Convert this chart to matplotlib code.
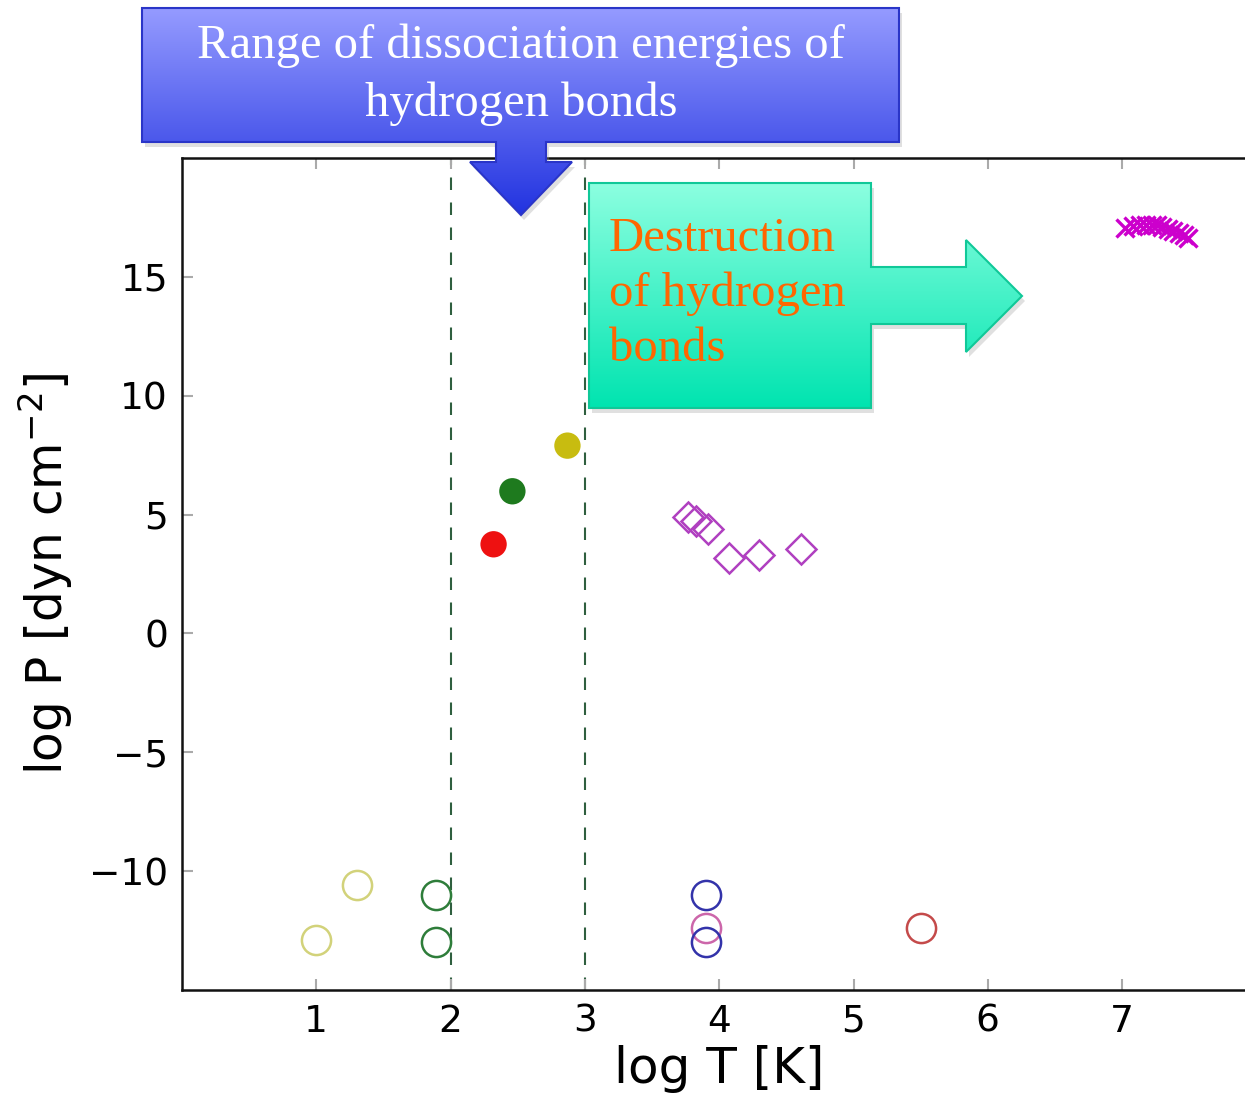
import numpy as np
import matplotlib.pyplot as plt
from matplotlib.patches import Polygon

# data
open_olive_x = [1.0, 1.30]
open_olive_y = [-12.9, -10.6]
open_green_x = [1.89, 1.89]
open_green_y = [-11.0, -13.0]
open_pink_x = [3.90]
open_pink_y = [-12.4]
open_blue_x = [3.90, 3.90]
open_blue_y = [-11.0, -13.0]
open_red_x = [5.50]
open_red_y = [-12.4]

filled_x = [2.32, 2.46, 2.87]
filled_y = [3.75, 5.98, 7.9]
filled_colors = ['#ee1111', '#1e7a1e', '#c8bc10']

diamond_x = [3.77, 3.83, 3.92, 4.07, 4.30, 4.61]
diamond_y = [4.9, 4.75, 4.4, 3.16, 3.3, 3.54]

cross_x = [7.02, 7.08, 7.13, 7.18, 7.22, 7.26, 7.30, 7.34, 7.38, 7.42, 7.46, 7.49]
cross_y = [17.05, 17.12, 17.18, 17.2, 17.2, 17.17, 17.1, 17.02, 16.95, 16.85, 16.75, 16.62]

dissoc_lines = [2, 3]
xticks = [1, 2, 3, 4, 5, 6, 7]
yticks = [-10, -5, 0, 5, 10, 15]

W, H = 1245, 1097
fig = plt.figure(figsize=(W / 100, H / 100), dpi=100)
ax = fig.add_axes([182 / W, 1 - 990 / H, 8 * 134.3 / W, (990 - 158) / H])

ax.set_xlim(0, 8)
ax.set_ylim(-15, 20)

for xv in dissoc_lines:
    ax.axvline(xv, color='#2f5f3f', linestyle=(0, (6, 6)), linewidth=1.5, zorder=1)

ax.plot(open_olive_x, open_olive_y, 'o', mfc='none', mec='#d2d27a', ms=21, mew=1.8, ls='none')
ax.plot(open_green_x, open_green_y, 'o', mfc='none', mec='#2e7d3a', ms=21, mew=1.8, ls='none')
ax.plot(open_pink_x, open_pink_y, 'o', mfc='none', mec='#cc66aa', ms=21, mew=1.8, ls='none')
ax.plot(open_blue_x, open_blue_y, 'o', mfc='none', mec='#3333aa', ms=21, mew=1.8, ls='none')
ax.plot(open_red_x, open_red_y, 'o', mfc='none', mec='#c44a4a', ms=21, mew=1.8, ls='none')

ax.scatter(filled_x, filled_y, s=360, c=filled_colors, edgecolors='none', zorder=3)

ax.plot(diamond_x, diamond_y, 'D', mfc='none', mec='#b040c0', ms=15, mew=1.8, ls='none')
ax.plot(cross_x, cross_y, 'x', color='#cc00cc', ms=13, mew=2.4, ls='none')

ax.set_xticks(xticks)
ax.set_yticks(yticks)
ax.set_yticklabels(['\u221210', '\u22125', '0', '5', '10', '15'])
ax.tick_params(direction='in', length=8, width=1.5, color='#aaaaaa', labelsize=27,
               top=True, right=True, pad=10)
for sp in ax.spines.values():
    sp.set_linewidth(1.8)
    sp.set_color('#111111')

ax.set_xlabel('log T [K]', fontsize=36, labelpad=4)
ax.set_ylabel('log P [dyn cm$^{-2}$]', fontsize=35, labelpad=10)

# overlay in pixel coordinates for the callout shapes
ov = fig.add_axes([0, 0, 1, 1], zorder=5)
ov.set_xlim(0, W)
ov.set_ylim(H, 0)
ov.axis('off')


def callout(points, top_color, bottom_color, edge):
    pts = np.array(points, dtype=float)
    shadow = Polygon(pts + [3, 5], closed=True, facecolor='#999999', alpha=0.3,
                     edgecolor='none')
    ov.add_patch(shadow)
    poly = Polygon(pts, closed=True, facecolor='none', edgecolor=edge, linewidth=1.5, zorder=3)
    ov.add_patch(poly)
    x0, x1 = pts[:, 0].min(), pts[:, 0].max()
    y0, y1 = pts[:, 1].min(), pts[:, 1].max()
    t = np.linspace(0, 1, 256)[:, None]
    c0 = np.array(plt.matplotlib.colors.to_rgb(top_color))
    c1 = np.array(plt.matplotlib.colors.to_rgb(bottom_color))
    grad = (c0 * (1 - t) + c1 * t)[:, None, :]
    im = ov.imshow(grad, extent=(x0, x1, y1, y0), aspect='auto', zorder=2,
                   interpolation='bilinear')
    im.set_clip_path(poly)


callout([(142, 8), (899, 8), (899, 142), (546, 142), (546, 162), (572, 162),
         (521, 215), (470, 162), (496, 162), (496, 142), (142, 142)],
        '#959bff', '#2233e0', '#2a35c8')
ov.text(521, 46, 'Range of dissociation energies of', ha='center', va='center',
        color='white', fontsize=35, family='Liberation Serif', zorder=4)
ov.text(521, 104, 'hydrogen bonds', ha='center', va='center',
        color='white', fontsize=35, family='Liberation Serif', zorder=4)

callout([(589, 183), (871, 183), (871, 267), (966, 267), (966, 240), (1022, 296),
         (966, 352), (966, 324), (871, 324), (871, 408), (589, 408)],
        '#8cffe0', '#00e4b0', '#10c898')
ov.text(609, 294, 'Destruction\nof hydrogen\nbonds', ha='left', va='center',
        color='#ff6600', fontsize=35, family='Liberation Serif', linespacing=1.32, zorder=4)

fig.savefig('out.png', dpi=100)
